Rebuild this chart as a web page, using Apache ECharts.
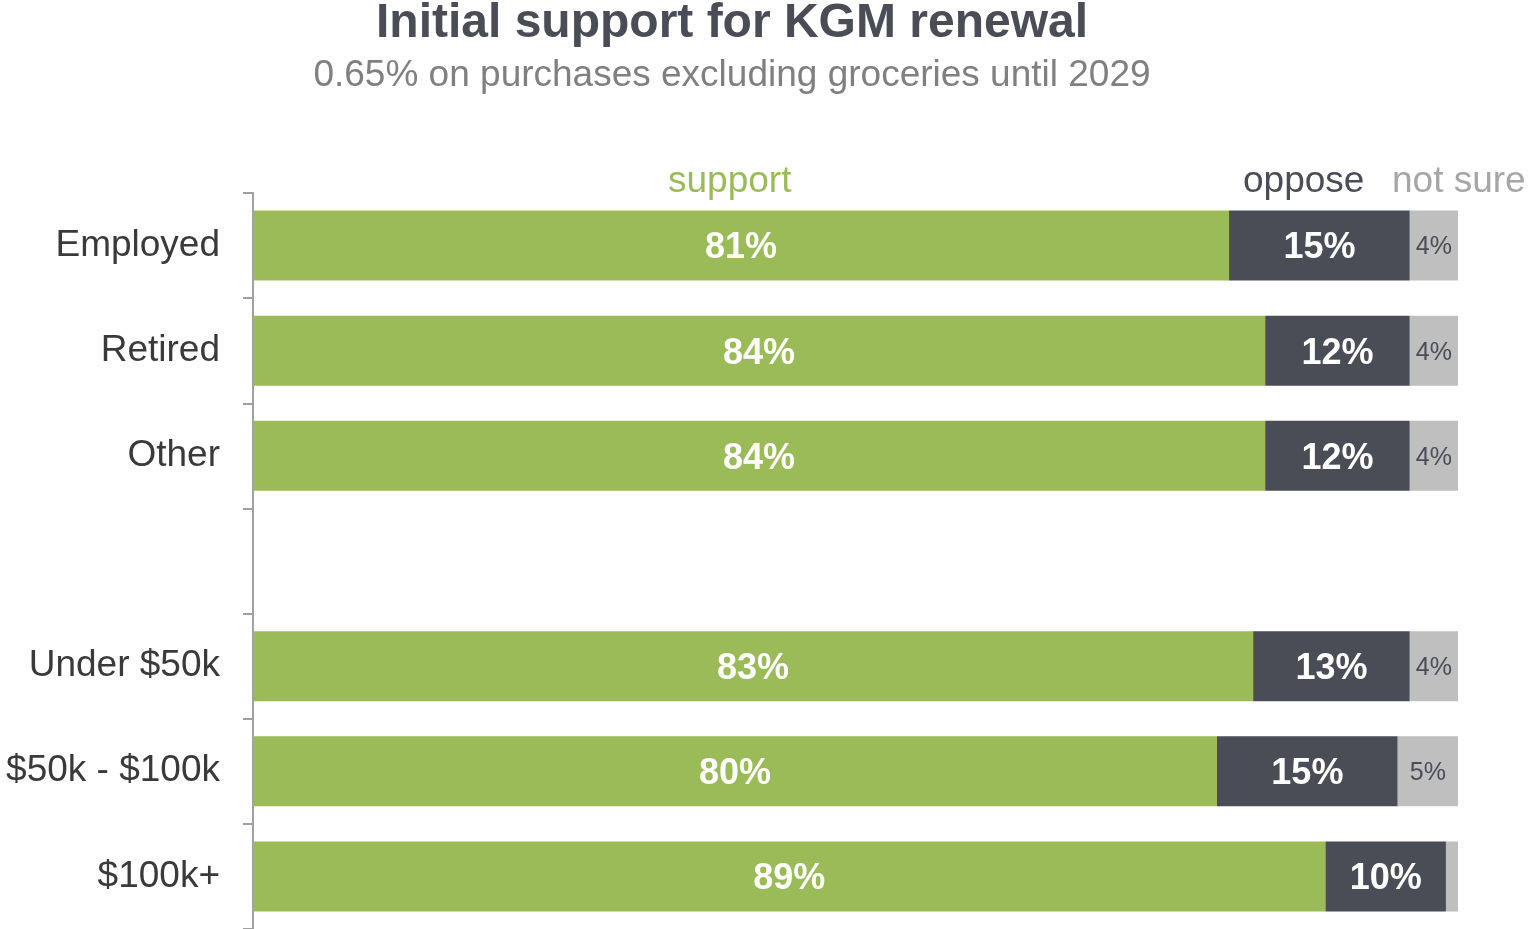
<!DOCTYPE html>
<html>
<head>
<meta charset="utf-8">
<style>
  html, body { margin: 0; padding: 0; background: #ffffff; }
  #chart { width: 1537px; height: 929px; }
</style>
<script src="https://cdn.jsdelivr.net/npm/echarts@6/dist/echarts.min.js"></script>
</head>
<body>
<div id="chart"></div>
<script>
// Groups (blank entry leaves a gap between employment and income groups)
const categories = ['Employed', 'Retired', 'Other', '', 'Under $50k', '$50k - $100k', '$100k+'];
const supportValues = [81, 84, 84, null, 83, 80, 89];
const opposeValues  = [15, 12, 12, null, 13, 15, 10];
const notSureValues = [4, 4, 4, null, 4, 5, 1];

const GREEN = '#9BBB59';
const CHARCOAL = '#4A4D55';
const LIGHT = '#BFBFBF';
const FONT = '"Liberation Sans", Arial, Helvetica, sans-serif';

const chart = echarts.init(document.getElementById('chart'));

const pct = p => (p.value == null ? '' : p.value + '%');

chart.setOption({
  animation: false,
  backgroundColor: '#ffffff',
  title: {
    text: 'Initial support for KGM renewal',
    subtext: '0.65% on purchases excluding groceries until 2029',
    left: 727,
    textAlign: 'center',
    top: -5,
    itemGap: 9,
    textStyle: { fontFamily: FONT, fontSize: 48, fontWeight: 'bold', color: '#4A4D55' },
    subtextStyle: { fontFamily: FONT, fontSize: 37, color: '#808080' }
  },
  grid: { left: 253, right: 79, top: 193, bottom: 0, containLabel: false },
  xAxis: {
    type: 'value', min: 0, max: 100, show: false
  },
  yAxis: {
    type: 'category',
    data: categories,
    inverse: true,
    axisLine: { show: true, lineStyle: { color: '#A0A0A0', width: 2 } },
    axisTick: { show: true, length: 10, lineStyle: { color: '#A0A0A0', width: 2 } },
    axisLabel: { margin: 33, fontFamily: FONT, fontSize: 37, color: '#3A3A3A',
      padding: [5, 0, 0, 0] },
    splitLine: { show: false }
  },
  series: [
    {
      name: 'support', type: 'bar', stack: 'all', barWidth: 70,
      data: supportValues,
      itemStyle: { color: GREEN },
      label: { show: true, position: 'inside', formatter: pct, offset: [0, 3],
        fontFamily: FONT, fontSize: 36, fontWeight: 'bold', color: '#ffffff' }
    },
    {
      name: 'oppose', type: 'bar', stack: 'all', barWidth: 70,
      data: opposeValues,
      itemStyle: { color: CHARCOAL },
      label: { show: true, position: 'inside', formatter: pct, offset: [0, 3],
        fontFamily: FONT, fontSize: 36, fontWeight: 'bold', color: '#ffffff' }
    },
    {
      name: 'not sure', type: 'bar', stack: 'all', barWidth: 70,
      data: notSureValues,
      itemStyle: { color: LIGHT },
      label: { show: true, position: 'inside', offset: [0, 2],
        formatter: p => (p.value == null || p.value < 2 ? '' : p.value + '%'),
        fontFamily: FONT, fontSize: 25, color: '#4A4D55' }
    }
  ],
  graphic: [
    { type: 'text', left: 668, top: 163,
      style: { text: 'support', font: '37px ' + FONT, fill: GREEN } },
    { type: 'text', left: 1243, top: 163,
      style: { text: 'oppose', font: '37px ' + FONT, fill: '#4A4D55' } },
    { type: 'text', left: 1392, top: 163,
      style: { text: 'not sure', font: '37px ' + FONT, fill: '#A6A6A6' } }
  ]
});
</script>
</body>
</html>
